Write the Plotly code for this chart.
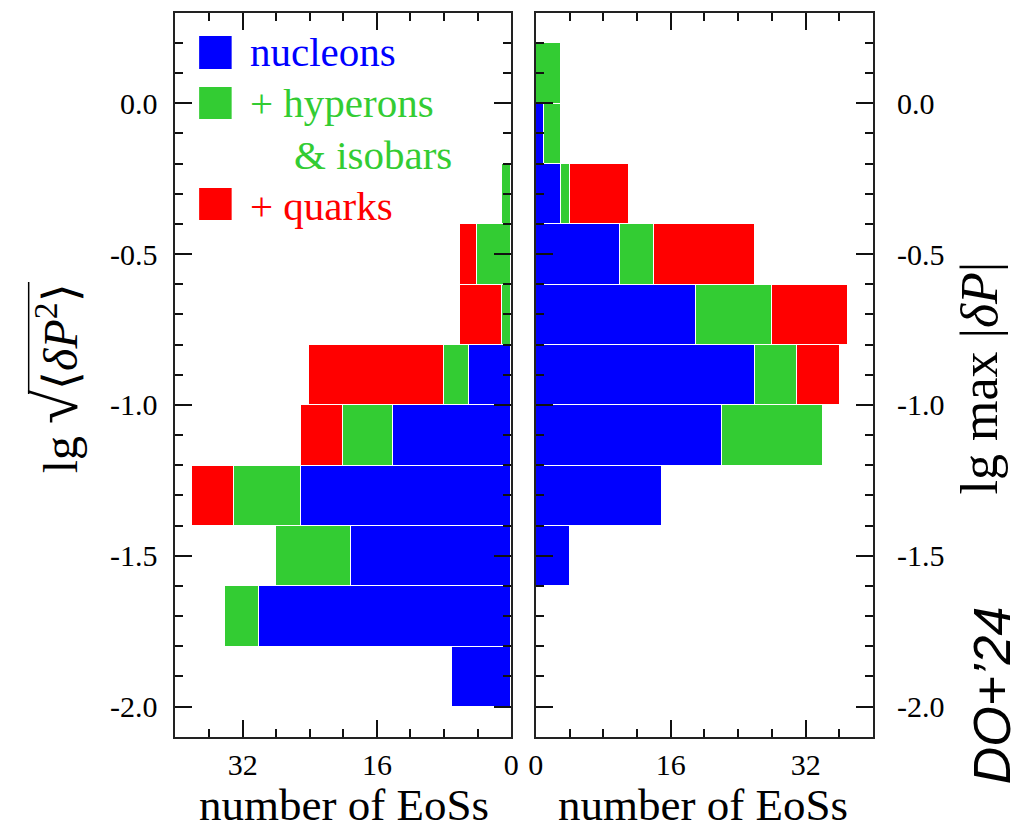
import plotly.graph_objects as go

# ---- data ----
bin_centers = [-1.9, -1.7, -1.5, -1.3, -1.1, -0.9, -0.7, -0.5, -0.3, -0.1, 0.1]
bin_width = 0.2

left_nucleons = [7, 30, 19, 25, 14, 5, 0, 0, 0, 0, 0]
left_hyperons = [0, 4, 9, 8, 6, 3, 1, 4, 1, 0, 0]
left_quarks = [0, 0, 0, 5, 5, 16, 5, 2, 0, 0, 0]

right_nucleons = [0, 0, 4, 15, 22, 26, 19, 10, 3, 1, 0]
right_hyperons = [0, 0, 0, 0, 12, 5, 9, 4, 1, 2, 3]
right_quarks = [0, 0, 0, 0, 0, 5, 9, 12, 7, 0, 0]

y_tickvals = [0.0, -0.5, -1.0, -1.5, -2.0]
y_ticktext = ["0.0", "-0.5", "-1.0", "-1.5", "-2.0"]
left_x_tickvals = [32, 16, 0]
right_x_tickvals = [0, 16, 32]

BLUE = "#0000FF"
GREEN = "#33CC33"
RED = "#FF0000"

W, H = 1021, 834
SERIF = "Liberation Serif"


def px(x):
    return x / W


def py(y):
    return 1 - y / H


fig = go.Figure()

for xs, col, ax in [
    (left_nucleons, BLUE, ("x", "y")),
    (left_hyperons, GREEN, ("x", "y")),
    (left_quarks, RED, ("x", "y")),
    (right_nucleons, BLUE, ("x2", "y2")),
    (right_hyperons, GREEN, ("x2", "y2")),
    (right_quarks, RED, ("x2", "y2")),
]:
    fig.add_trace(go.Bar(
        x=xs, y=bin_centers, orientation="h", width=bin_width,
        marker=dict(color=col, line=dict(color="white", width=1)),
        xaxis=ax[0], yaxis=ax[1], showlegend=False, hoverinfo="x+y",
    ))

ydom = [py(736.7), py(12.7)]

common_axis = dict(
    showline=True, linecolor="#222222", linewidth=2, mirror="allticks",
    ticks="inside", tickcolor="#111111", tickwidth=1.5,
    showgrid=False, zeroline=False,
    tickfont=dict(family=SERIF, size=30, color="black"),
)
minor_x = dict(dtick=4, tick0=0, ticks="inside", ticklen=8,
               tickcolor="#111111", tickwidth=1.5, showgrid=False)
minor_y = dict(dtick=0.1, tick0=0, ticks="inside", ticklen=8,
               tickcolor="#111111", tickwidth=1.5, showgrid=False)

fig.update_layout(
    width=W, height=H,
    margin=dict(l=0, r=0, t=0, b=0),
    paper_bgcolor="white", plot_bgcolor="white",
    barmode="stack", bargap=0,
    xaxis=dict(
        domain=[px(171), px(511.7)], range=[40, 0], anchor="y",
        tickmode="array", tickvals=left_x_tickvals,
        ticktext=[str(v) for v in left_x_tickvals], ticklen=17,
        minor=minor_x, ticklabelstandoff=0, **common_axis,
    ),
    yaxis=dict(
        domain=ydom, range=[-2.1, 0.3], anchor="x",
        tickmode="array", tickvals=y_tickvals, ticktext=y_ticktext,
        ticklen=17, side="left", minor=minor_y, ticklabelstandoff=10,
        **common_axis,
    ),
    xaxis2=dict(
        domain=[px(536.7), px(879)], range=[0, 40], anchor="y2",
        tickmode="array", tickvals=right_x_tickvals,
        ticktext=[str(v) for v in right_x_tickvals], ticklen=17,
        minor=minor_x, ticklabelstandoff=0, **common_axis,
    ),
    yaxis2=dict(
        domain=ydom, range=[-2.1, 0.3], anchor="x2",
        tickmode="array", tickvals=y_tickvals, ticktext=y_ticktext,
        ticklen=17, side="right", minor=minor_y, ticklabelstandoff=16,
        **common_axis,
    ),
)

# ---- custom legend ----
legend_items = [
    (BLUE, 36, 69, "nucleons", 52),
    (GREEN, 87, 119, "+ hyperons", 103),
    (RED, 188, 220, "+ quarks", 206),
]
for col, y0, y1, label, yc in legend_items:
    fig.add_shape(type="rect", xref="paper", yref="paper",
                  x0=px(195), x1=px(228), y0=py(y1), y1=py(y0),
                  fillcolor=col, line=dict(width=0))
    fig.add_annotation(xref="paper", yref="paper", x=px(245), y=py(yc),
                       text=label, showarrow=False, xanchor="left",
                       yanchor="middle",
                       font=dict(family=SERIF, size=41, color=col))
fig.add_annotation(xref="paper", yref="paper", x=px(289), y=py(155),
                   text="&amp; isobars", showarrow=False, xanchor="left",
                   yanchor="middle",
                   font=dict(family=SERIF, size=41, color=GREEN))

# ---- axis titles ----
for xc in (342, 706):
    fig.add_annotation(xref="paper", yref="paper", x=px(xc), y=py(805),
                       text="number of EoSs", showarrow=False,
                       xanchor="center", yanchor="middle",
                       font=dict(family=SERIF, size=45, color="black"))

fig.add_annotation(xref="paper", yref="paper", x=px(50), y=py(378),
                   text="lg <span style='font-size:62px'>√</span>⟨<i>δP</i><sup>2</sup>⟩",
                   showarrow=False,
                   textangle=-90, xanchor="center", yanchor="middle",
                   font=dict(family=SERIF, size=48, color="black"))
# vinculum of the square root
fig.add_shape(type="line", xref="paper", yref="paper",
              x0=px(22), x1=px(22), y0=py(282), y1=py(394),
              line=dict(color="black", width=1.5))

fig.add_annotation(xref="paper", yref="paper", x=px(986), y=py(378),
                   text="lg max |<i>δP</i>|", showarrow=False,
                   textangle=-90, xanchor="center", yanchor="middle",
                   font=dict(family=SERIF, size=52, color="black"))

fig.add_annotation(xref="paper", yref="paper", x=px(1000), y=py(695),
                   text="<i>DO+’24</i>", showarrow=False,
                   textangle=-90, xanchor="center", yanchor="middle",
                   font=dict(family="Liberation Sans", size=52, color="black"))

fig.write_html("out.html",
               config={"displayModeBar": False},
               post_script="document.body.style.margin='0';document.body.style.overflow='hidden';")
